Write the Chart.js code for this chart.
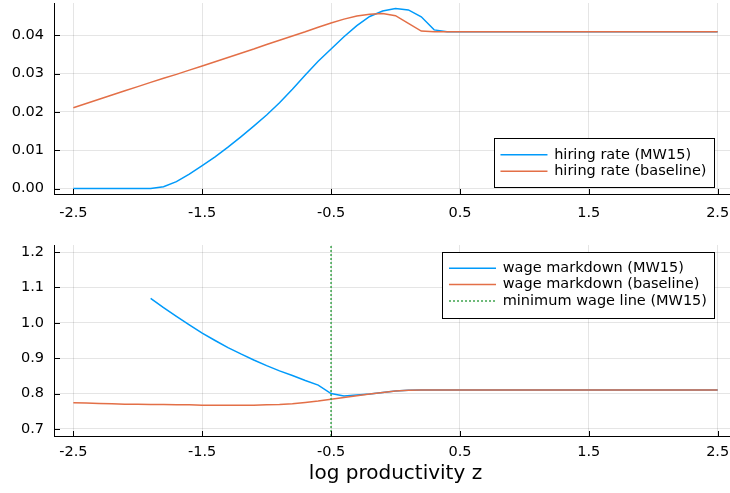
<!DOCTYPE html>
<html>
<head>
<meta charset="utf-8">
<script src="https://cdn.jsdelivr.net/npm/chart.js@4.4.1/dist/chart.umd.min.js"></script>
<style>
  html, body { margin: 0; padding: 0; background: #fff; overflow: hidden; width: 730px; height: 493px; }
  #wrap { position: relative; width: 737px; height: 493px; }
  canvas { position: absolute; left: 0; display: block; }
  #topChart { top: 0; }
  #bottomChart { top: 220px; }
</style>
</head>
<body>
<div id="wrap">
  <canvas id="topChart" width="737" height="220"></canvas>
  <canvas id="bottomChart" width="737" height="273"></canvas>
</div>
<script>
// log productivity grid
const z = [
  -2.5, -2.4, -2.3, -2.2, -2.1, -2.0, -1.9, -1.8, -1.7, -1.6,
  -1.5, -1.4, -1.3, -1.2, -1.1, -1.0, -0.9, -0.8, -0.7, -0.6,
  -0.5, -0.4, -0.3, -0.2, -0.1, 0.0, 0.1, 0.2, 0.3, 0.4,
  0.5, 0.6, 0.7, 0.8, 0.9, 1.0, 1.1, 1.2, 1.3, 1.4,
  1.5, 1.6, 1.7, 1.8, 1.9, 2.0, 2.1, 2.2, 2.3, 2.4, 2.5
];

// hiring rate, minimum wage scenario
const hiringMW15 = [
  0, 0, 0, 0, 0, 0, 0, 0.0005, 0.0018, 0.0038,
  0.0060, 0.0083, 0.0108, 0.0135, 0.0163, 0.0192, 0.0224, 0.0259, 0.0296, 0.0332,
  0.0364, 0.0396, 0.0425, 0.0449, 0.0463, 0.0470, 0.0466, 0.0448, 0.0414, 0.0409,
  0.0409, 0.0409, 0.0409, 0.0409, 0.0409, 0.0409, 0.0409, 0.0409, 0.0409, 0.0409,
  0.0409, 0.0409, 0.0409, 0.0409, 0.0409, 0.0409, 0.0409, 0.0409, 0.0409, 0.0409, 0.0409
];

// hiring rate, baseline
const hiringBase = [
  0.0211, 0.0222, 0.0233, 0.0244, 0.0255, 0.0266, 0.0277, 0.0288, 0.0298, 0.0309,
  0.0320, 0.0331, 0.0342, 0.0353, 0.0364, 0.0376, 0.0387, 0.0398, 0.0409, 0.0421,
  0.0432, 0.0442, 0.0450, 0.0455, 0.0457, 0.0451, 0.0431, 0.0411, 0.0409, 0.0409,
  0.0409, 0.0409, 0.0409, 0.0409, 0.0409, 0.0409, 0.0409, 0.0409, 0.0409, 0.0409,
  0.0409, 0.0409, 0.0409, 0.0409, 0.0409, 0.0409, 0.0409, 0.0409, 0.0409, 0.0409, 0.0409
];

// wage markdown, minimum wage scenario (no firms below the cutoff)
const markdownMW15 = [
  null, null, null, null, null, null, 1.069, 1.043, 1.018, 0.994,
  0.971, 0.950, 0.930, 0.912, 0.895, 0.879, 0.864, 0.851, 0.837, 0.824,
  0.800, 0.793, 0.796, 0.799, 0.803, 0.807, 0.809, 0.810, 0.810, 0.810,
  0.810, 0.810, 0.810, 0.810, 0.810, 0.810, 0.810, 0.810, 0.810, 0.810,
  0.810, 0.810, 0.810, 0.810, 0.810, 0.810, 0.810, 0.810, 0.810, 0.810, 0.810
];

// wage markdown, baseline
const markdownBase = [
  0.774, 0.773, 0.772, 0.771, 0.770, 0.770, 0.769, 0.769, 0.768, 0.768,
  0.767, 0.767, 0.767, 0.767, 0.767, 0.768, 0.769, 0.771, 0.775, 0.779,
  0.784, 0.789, 0.794, 0.799, 0.803, 0.807, 0.809, 0.810, 0.810, 0.810,
  0.810, 0.810, 0.810, 0.810, 0.810, 0.810, 0.810, 0.810, 0.810, 0.810,
  0.810, 0.810, 0.810, 0.810, 0.810, 0.810, 0.810, 0.810, 0.810, 0.810, 0.810
];

// minimum wage productivity cutoff
const mwCutoff = -0.5;

// axes
const xRange = [-2.65, 2.65];
const xTicks = [-2.5, -1.5, -0.5, 0.5, 1.5, 2.5];
const yTopRange = [-0.00141, 0.04841];
const yTopTicks = [0.00, 0.01, 0.02, 0.03, 0.04];
const yBottomRange = [0.68, 1.22];
const yBottomTicks = [0.7, 0.8, 0.9, 1.0, 1.1, 1.2];
const xTitle = 'log productivity z';

const labelsTop = ['hiring rate (MW15)', 'hiring rate (baseline)'];
const labelsBottom = ['wage markdown (MW15)', 'wage markdown (baseline)', 'minimum wage line (MW15)'];

const BLUE = '#009AFA';
const ORANGE = '#E36F47';
const GREEN = '#3EA44E';
const FONT = '"DejaVu Sans", sans-serif';

Chart.defaults.font.family = FONT;
Chart.defaults.color = '#000';

const pts = (vals) => z.map((x, i) => ({ x: x, y: vals[i] }));

// short tick marks drawn inward from the axis lines
const innerTicks = {
  id: 'innerTicks',
  afterDatasetsDraw(chart) {
    const { ctx, chartArea: a, scales } = chart;
    ctx.save();
    ctx.strokeStyle = '#000';
    ctx.lineWidth = 1;
    ctx.beginPath();
    scales.x.ticks.forEach(t => {
      const px = Math.round(scales.x.getPixelForValue(t.value)) + 0.5;
      ctx.moveTo(px, a.bottom);
      ctx.lineTo(px, a.bottom - 5);
    });
    scales.y.ticks.forEach(t => {
      const py = Math.round(scales.y.getPixelForValue(t.value)) + 0.5;
      ctx.moveTo(a.left, py);
      ctx.lineTo(a.left + 6, py);
    });
    ctx.stroke();
    ctx.restore();
  }
};

// boxed legend inside the plot area
const boxLegend = {
  id: 'boxLegend',
  afterDraw(chart, args, opts) {
    const { ctx, chartArea: a } = chart;
    const items = chart.data.datasets;
    ctx.save();
    ctx.font = '14.5px ' + FONT;
    const maxW = Math.max(...items.map(d => ctx.measureText(d.label).width));
    const rowH = 16.4;
    const w = 6.6 + 47 + 6.7 + maxW + 7;
    const h = (items.length - 1) * rowH + 33;
    const x = a.right - opts.right - w;
    const y = opts.anchor === 'bottom' ? a.bottom - opts.offset - h : a.top + opts.offset;
    const bx = Math.round(x) + 0.5, by = Math.round(y) + 0.5;
    ctx.fillStyle = '#fff';
    ctx.fillRect(bx, by, Math.round(w), Math.round(h));
    ctx.strokeStyle = '#000';
    ctx.lineWidth = 1;
    ctx.strokeRect(bx, by, Math.round(w), Math.round(h));
    items.forEach((d, i) => {
      const cy = y + 16.5 + i * rowH;
      ctx.beginPath();
      ctx.strokeStyle = d.borderColor;
      ctx.lineWidth = d.borderWidth;
      ctx.setLineDash(d.borderDash || []);
      ctx.moveTo(x + 6.6, cy);
      ctx.lineTo(x + 53.6, cy);
      ctx.stroke();
      ctx.setLineDash([]);
      ctx.fillStyle = '#000';
      ctx.textAlign = 'left';
      ctx.textBaseline = 'middle';
      ctx.fillText(d.label, x + 60.3, cy);
    });
    ctx.restore();
  }
};

function gridScale(range, ticks, digits, extra) {
  return Object.assign({
    type: 'linear',
    min: range[0],
    max: range[1],
    afterBuildTicks: s => { s.ticks = ticks.map(v => ({ value: v })); },
    ticks: {
      callback: v => Number(v).toFixed(digits),
      font: { size: 14.5 },
      color: '#000',
      autoSkip: false,
      maxRotation: 0
    },
    grid: { color: 'rgba(0,0,0,0.1)', lineWidth: 1, drawTicks: false },
    border: { display: true, color: '#000', width: 1 }
  }, extra);
}

// later series are painted over earlier ones
function lineSet(label, data, color, order, dash) {
  return {
    label: label,
    data: data,
    order: order,
    borderColor: color,
    backgroundColor: color,
    borderWidth: 1.5,
    borderDash: dash || [],
    pointRadius: 0,
    tension: 0,
    fill: false,
    spanGaps: false
  };
}

new Chart(document.getElementById('topChart'), {
  type: 'line',
  data: {
    datasets: [
      lineSet(labelsTop[0], pts(hiringMW15), BLUE, 2),
      lineSet(labelsTop[1], pts(hiringBase), ORANGE, 1)
    ]
  },
  options: {
    responsive: false,
    animation: false,
    layout: { padding: { top: 3, left: 0, right: 0, bottom: 0 } },
    scales: {
      x: (() => {
        const s = gridScale(xRange, xTicks, 1, {
          afterFit: sc => { sc.height = 26; sc.paddingLeft = 0; sc.paddingRight = 0; }
        });
        s.ticks.padding = 11;
        return s;
      })(),
      y: (() => {
        const s = gridScale(yTopRange, yTopTicks, 2, {
          afterFit: sc => { sc.width = 54; sc.paddingTop = 0; sc.paddingBottom = 0; }
        });
        s.ticks.padding = 10;
        return s;
      })()
    },
    plugins: {
      legend: { display: false },
      tooltip: { enabled: false },
      boxLegend: { anchor: 'bottom', right: 23.5, offset: 6.3 }
    }
  },
  plugins: [innerTicks, boxLegend]
});

new Chart(document.getElementById('bottomChart'), {
  type: 'line',
  data: {
    datasets: [
      lineSet(labelsBottom[0], pts(markdownMW15), BLUE, 3),
      lineSet(labelsBottom[1], pts(markdownBase), ORANGE, 2),
      lineSet(labelsBottom[2], [{ x: mwCutoff, y: yBottomRange[0] }, { x: mwCutoff, y: yBottomRange[1] }], GREEN, 1, [2, 2])
    ]
  },
  options: {
    responsive: false,
    animation: false,
    layout: { padding: { top: 25, left: 0, right: 0, bottom: 0 } },
    scales: {
      x: (() => {
        const s = gridScale(xRange, xTicks, 1, {
          title: { display: true, text: xTitle, font: { size: 20 }, color: '#000', padding: { top: 0, bottom: 7 } },
          afterFit: sc => { sc.height = 57; sc.paddingLeft = 0; sc.paddingRight = 0; }
        });
        s.ticks.padding = 8;
        return s;
      })(),
      y: (() => {
        const s = gridScale(yBottomRange, yBottomTicks, 1, {
          afterFit: sc => { sc.width = 54; sc.paddingTop = 0; sc.paddingBottom = 0; }
        });
        s.ticks.padding = 10;
        return s;
      })()
    },
    plugins: {
      legend: { display: false },
      tooltip: { enabled: false },
      boxLegend: { anchor: 'top', right: 23, offset: 6.7 }
    }
  },
  plugins: [innerTicks, boxLegend]
});
</script>
</body>
</html>
